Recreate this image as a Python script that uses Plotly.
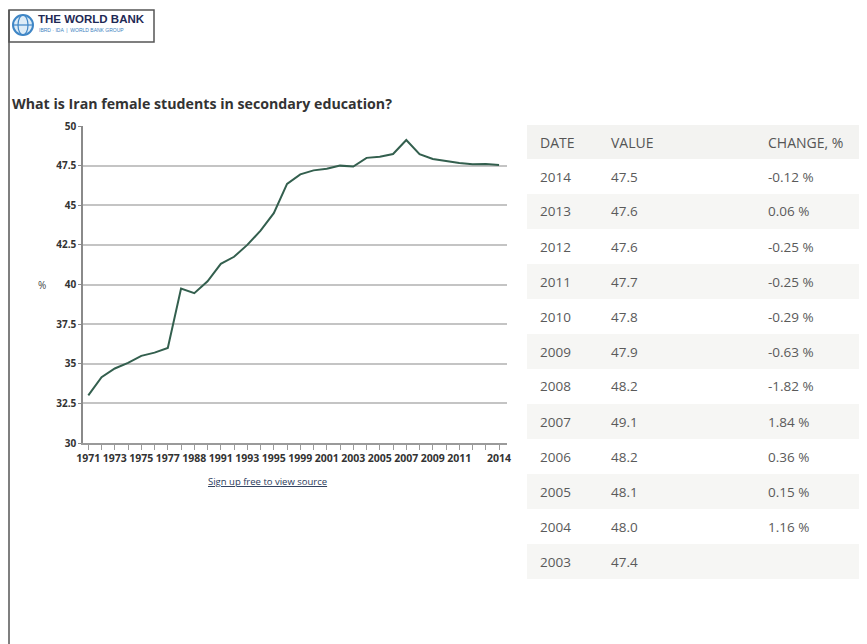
import plotly.graph_objects as go

W, H = 867, 644
OFF = 8  # page body margin offset
FW, FH = W - OFF, H - OFF

# ---- data ----
years = ["1971", "1972", "1973", "1974", "1975", "1976", "1977", "1978",
         "1988", "1990", "1991", "1992", "1993", "1994", "1995", "1996",
         "1999", "2000", "2001", "2002", "2003", "2004", "2005", "2006",
         "2007", "2008", "2009", "2010", "2011", "2012", "2013", "2014"]
values = [33.0, 34.15, 34.7, 35.05, 35.5, 35.7, 36.0, 39.75,
          39.45, 40.2, 41.3, 41.75, 42.5, 43.4, 44.5, 46.35,
          46.95, 47.2, 47.3, 47.5, 47.44, 47.99, 48.06, 48.23,
          49.12, 48.22, 47.92, 47.78, 47.66, 47.58, 47.61, 47.54]
tick_labels = ["1971", "", "1973", "", "1975", "", "1977", "",
               "1988", "", "1991", "", "1993", "", "1995", "",
               "1999", "", "2001", "", "2003", "", "2005", "",
               "2007", "", "2009", "", "2011", "", "", "2014"]
y_ticks = [30, 32.5, 35, 37.5, 40, 42.5, 45, 47.5, 50]
y_tick_labels = ["30", "32.5", "35", "37.5", "40", "42.5", "45", "47.5", "50"]

table_header = ["DATE", "VALUE", "CHANGE, %"]
table_dates = ["2014", "2013", "2012", "2011", "2010", "2009",
               "2008", "2007", "2006", "2005", "2004", "2003"]
table_values = ["47.5", "47.6", "47.6", "47.7", "47.8", "47.9",
                "48.2", "49.1", "48.2", "48.1", "48.0", "47.4"]
table_changes = ["-0.12 %", "0.06 %", "-0.25 %", "-0.25 %", "-0.29 %", "-0.63 %",
                 "-1.82 %", "1.84 %", "0.36 %", "0.15 %", "1.16 %", ""]

title_text = "What is Iran female students in secondary education?"


def px(x):
    return (x - OFF) / FW


def py(y):
    return 1 - (y - OFF) / FH


fig = go.Figure()

fig.add_trace(go.Scatter(
    x=list(range(len(years))), y=values, mode="lines",
    line=dict(color="#335f4e", width=2),
    hoverinfo="text", text=[f"{a}: {b}" for a, b in zip(years, values)],
    showlegend=False,
))

fig.update_layout(
    width=FW, height=FH, autosize=False,
    margin=dict(l=0, r=0, t=0, b=0),
    paper_bgcolor="white", plot_bgcolor="white",
    font=dict(family="Open Sans", color="#333333"),
    xaxis=dict(
        domain=[px(83), px(507)], range=[-0.4, 31.6], automargin=False,
        tickmode="array", tickvals=list(range(len(years))),
        ticktext=[f"<b>{t}</b>" if t else "" for t in tick_labels],
        tickangle=0,
        tickfont=dict(family="Open Sans", size=10.5, color="#333333"),
        showgrid=False, zeroline=False,
        showline=True, linecolor="#9a9a9a", linewidth=1.5,
        ticks="outside", ticklen=5, tickcolor="#9a9a9a", tickwidth=1,
    ),
    yaxis=dict(
        domain=[py(443), py(126)], range=[30, 50], automargin=False,
        tickmode="array", tickvals=y_ticks,
        ticktext=[f"<b>{t}</b>" for t in y_tick_labels],
        tickfont=dict(family="Open Sans", size=10, color="#333333"),
        showgrid=True, gridcolor="#c4c4c4", gridwidth=1.5,
        zeroline=False, showline=True, linecolor="#8a8a8a", linewidth=1.5,
        ticks="outside", ticklen=3, tickcolor="#8a8a8a",
    ),
)

annotations = [
    dict(x=px(10), y=py(103), xref="paper", yref="paper", xanchor="left", yanchor="middle",
         text=f"<b>{title_text}</b>", showarrow=False,
         font=dict(family="Open Sans", size=14.2, color="#333333")),
    dict(x=px(42), y=py(285), xref="paper", yref="paper", xanchor="center", yanchor="middle",
         text="%", showarrow=False,
         font=dict(family="Open Sans", size=10, color="#444444")),
    dict(x=px(267), y=py(481), xref="paper", yref="paper", xanchor="center", yanchor="middle",
         text="<u>Sign up free to view source</u>", showarrow=False,
         font=dict(family="Open Sans", size=9.5, color="#2a3a5a")),
    dict(x=px(36), y=py(19), xref="paper", yref="paper", xanchor="left", yanchor="middle",
         text="<b>THE WORLD BANK</b>", showarrow=False,
         font=dict(family="Liberation Sans", size=11.5, color="#1f2a55")),
    dict(x=px(37), y=py(30), xref="paper", yref="paper", xanchor="left", yanchor="middle",
         text="IBRD · IDA  |  WORLD BANK GROUP", showarrow=False,
         font=dict(family="Liberation Sans", size=5, color="#3c7fc0")),
]

shapes = [
    # left frame line
    dict(type="line", xref="paper", yref="paper", x0=px(9), x1=px(9), y0=py(10), y1=py(644),
         line=dict(color="#555555", width=1.5)),
    # logo box
    dict(type="rect", xref="paper", yref="paper", x0=px(9), x1=px(154), y0=py(42), y1=py(10),
         line=dict(color="#555555", width=1.5), fillcolor="rgba(0,0,0,0)"),
    # globe
    dict(type="circle", xref="paper", yref="paper", x0=px(13), x1=px(33), y0=py(35), y1=py(15),
         line=dict(color="#3f86c6", width=2), fillcolor="rgba(120,180,225,0.25)"),
    dict(type="circle", xref="paper", yref="paper", x0=px(18), x1=px(28), y0=py(35), y1=py(15),
         line=dict(color="#3f86c6", width=1.2), fillcolor="rgba(0,0,0,0)"),
    dict(type="line", xref="paper", yref="paper", x0=px(13), x1=px(33), y0=py(25), y1=py(25),
         line=dict(color="#3f86c6", width=1.2)),
]

# ---- table drawn with shapes and annotations ----
tbl_left, tbl_right = 527, 863
head_top, head_h, row_h = 125, 34, 35
col_x = [538, 609, 766]
shapes.append(dict(type="rect", xref="paper", yref="paper", layer="below",
                   x0=px(tbl_left), x1=px(tbl_right),
                   y0=py(head_top + head_h), y1=py(head_top),
                   line=dict(width=0), fillcolor="#f3f3f1"))
for cx, txt in zip(col_x, table_header):
    annotations.append(dict(x=px(cx), y=py(head_top + head_h / 2), xref="paper", yref="paper",
                            xanchor="left", yanchor="middle", text=txt, showarrow=False,
                            font=dict(family="Open Sans", size=14, color="#555555")))
for i, row in enumerate(zip(table_dates, table_values, table_changes)):
    top = head_top + head_h + i * row_h
    if i % 2 == 1:
        shapes.append(dict(type="rect", xref="paper", yref="paper", layer="below",
                           x0=px(tbl_left), x1=px(tbl_right),
                           y0=py(top + row_h), y1=py(top),
                           line=dict(width=0), fillcolor="#f6f6f4"))
    for cx, txt in zip(col_x, row):
        if txt:
            annotations.append(dict(x=px(cx), y=py(top + row_h / 2), xref="paper", yref="paper",
                                    xanchor="left", yanchor="middle", text=txt, showarrow=False,
                                    font=dict(family="Open Sans", size=13.5, color="#5a5a5a")))

fig.update_layout(annotations=annotations, shapes=shapes)

fig.write_html("out.html")
